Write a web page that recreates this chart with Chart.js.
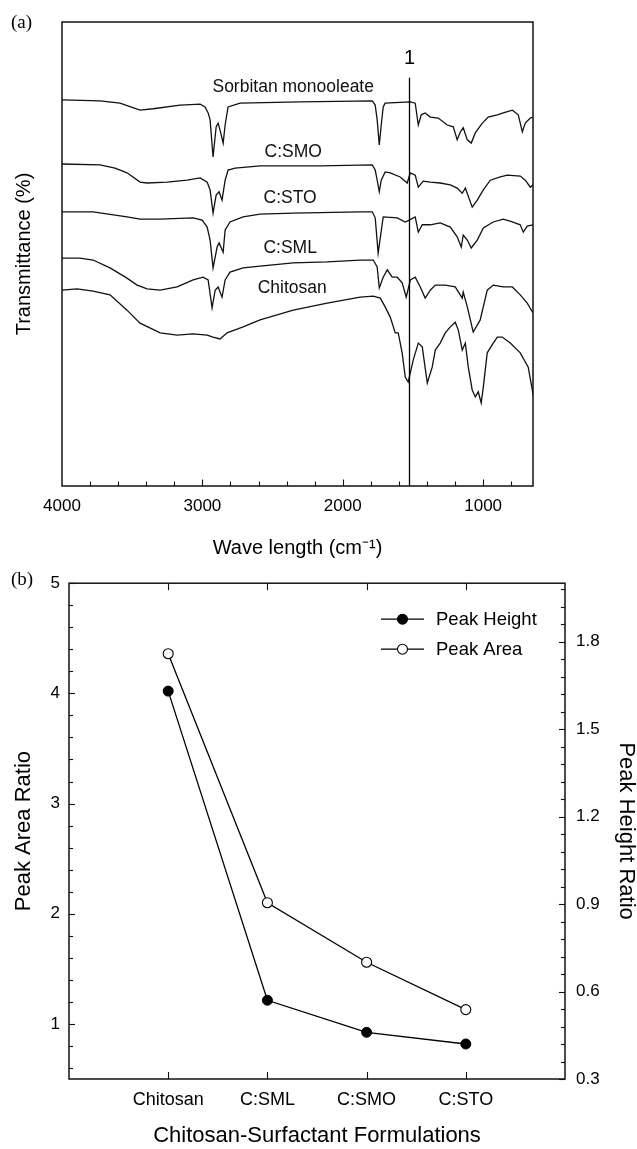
<!DOCTYPE html>
<html><head><meta charset="utf-8">
<script src="https://cdn.jsdelivr.net/npm/chart.js@4.4.1/dist/chart.umd.min.js"></script>
<style>
html,body{margin:0;padding:0;background:#fff;width:637px;height:1149px;overflow:hidden;}
#wrapA{position:absolute;left:0;top:0;width:637px;height:562px;}
#wrapB{position:absolute;left:0;top:562px;width:637px;height:587px;}
.pl{position:absolute;font-family:"Liberation Serif","Times New Roman",serif;font-size:19px;line-height:1;color:#000;}
</style></head><body>
<div id="wrapA"><canvas id="chartA" width="637" height="562"></canvas></div>
<div id="wrapB"><canvas id="chartB" width="637" height="587"></canvas></div>
<div class="pl" style="left:11px;top:12px">(a)</div>
<div class="pl" style="left:11px;top:569px">(b)</div>
<script>
// ---------- Panel (a): FTIR spectra, [wavenumber cm-1, transmittance (offset, a.u.)] ----------
const sorbitanMonooleate = [[4000,83.2],[3729,83.0],[3587,82.5],[3444,81.0],[3351,81.3],[3159,82.1],[3016,82.3],[2981,81.7],[2959,80.4],[2945,78.9],[2924,70.9],[2902,77.4],[2888,78.2],[2874,76.7],[2852,73.9],[2838,77.8],[2817,81.7],[2731,82.5],[2304,82.8],[1790,83.0],[1769,82.1],[1755,78.9],[1740,73.5],[1726,77.8],[1712,81.7],[1698,82.5],[1519,82.8],[1484,82.5],[1462,77.8],[1441,80.0],[1413,80.4],[1377,79.5],[1320,79.3],[1256,77.8],[1213,77.4],[1185,74.6],[1163,76.3],[1142,77.2],[1113,74.6],[1085,73.9],[1056,76.1],[1006,78.2],[964,79.5],[899,80.0],[857,80.4],[792,81.0],[750,80.0],[721,76.3],[700,78.2],[664,79.3],[645,79.5]];
const cSMO = [[4000,69.4],[3729,69.2],[3622,68.5],[3537,67.5],[3444,65.5],[3394,65.3],[3252,65.5],[3109,65.9],[3016,66.4],[2966,65.5],[2945,63.8],[2924,58.8],[2902,62.7],[2881,63.4],[2860,61.6],[2838,65.9],[2817,68.1],[2767,68.5],[2589,69.0],[2161,69.0],[1790,69.2],[1769,68.1],[1755,65.9],[1740,63.4],[1726,65.9],[1698,67.7],[1662,67.5],[1591,66.6],[1541,65.3],[1519,67.5],[1484,67.0],[1462,64.4],[1427,65.7],[1377,65.5],[1306,65.3],[1234,64.9],[1185,64.2],[1149,63.1],[1127,64.2],[1078,60.1],[1042,61.6],[999,63.8],[949,65.9],[878,66.6],[828,67.0],[736,66.8],[700,65.9],[664,64.4],[645,64.9]];
const cSTO = [[4000,59.1],[3779,59.1],[3537,58.0],[3444,57.5],[3301,57.5],[3066,57.8],[3002,57.3],[2966,55.8],[2945,53.0],[2924,47.0],[2895,51.5],[2881,52.4],[2852,50.4],[2838,55.2],[2803,56.9],[2710,58.0],[2589,58.6],[2353,58.8],[1876,59.1],[1790,59.1],[1769,57.8],[1748,50.2],[1712,58.0],[1612,57.8],[1555,56.9],[1527,57.3],[1484,58.0],[1462,54.7],[1434,56.3],[1377,56.3],[1306,56.7],[1234,55.8],[1185,53.7],[1156,51.5],[1142,54.1],[1113,53.0],[1085,51.3],[1042,53.0],[999,55.6],[928,56.9],[857,57.5],[792,56.9],[736,56.3],[714,54.7],[686,56.0],[645,56.3]];
const cSML = [[4000,49.1],[3872,49.1],[3779,48.7],[3658,47.0],[3537,44.8],[3465,43.3],[3394,42.5],[3301,42.2],[3180,42.9],[3066,44.4],[2995,45.0],[2959,44.4],[2931,38.4],[2909,42.2],[2888,42.9],[2860,40.7],[2838,44.4],[2803,46.1],[2710,47.0],[2589,47.4],[2353,48.1],[2111,48.3],[1876,48.7],[1783,48.7],[1755,47.2],[1740,42.7],[1712,45.0],[1683,46.6],[1648,45.0],[1612,45.0],[1577,43.8],[1548,40.7],[1519,44.4],[1484,45.0],[1448,42.9],[1413,40.5],[1377,42.2],[1341,43.3],[1270,43.3],[1199,42.9],[1149,40.5],[1142,41.8],[1113,38.6],[1071,33.2],[1021,35.8],[971,42.2],[928,43.3],[857,42.9],[792,42.9],[736,41.2],[686,39.4],[645,37.3]];
const chitosanSpectrum = [[4000,42.2],[3893,42.5],[3779,42.0],[3658,41.2],[3537,37.9],[3444,35.1],[3301,33.0],[3180,32.5],[3066,32.8],[2966,32.5],[2924,32.1],[2874,31.7],[2824,33.0],[2710,34.3],[2589,35.8],[2353,37.9],[2111,39.4],[1876,40.7],[1783,40.9],[1733,40.5],[1698,38.6],[1662,36.4],[1626,33.0],[1605,33.0],[1577,28.7],[1555,23.5],[1534,22.4],[1498,27.2],[1462,30.8],[1434,30.0],[1398,22.2],[1363,25.6],[1341,29.3],[1306,30.8],[1270,33.0],[1234,34.3],[1199,35.3],[1177,33.6],[1149,29.3],[1127,30.8],[1106,25.6],[1078,20.7],[1056,19.2],[1035,20.3],[1014,17.9],[999,21.3],[971,28.7],[928,30.8],[899,32.1],[864,32.1],[807,30.8],[736,28.7],[679,25.6],[650,20.7],[645,19.6]];
const spectrumNames = ['Sorbitan monooleate','C:SMO','C:STO','C:SML','Chitosan'];
const waveTickLabels = [4000,3000,2000,1000];
const markerWave = 1530;
const markerName = '1';

// ---------- Panel (b): peak ratios ----------
const formulations = ['Chitosan','C:SML','C:SMO','C:STO'];
const peakHeight = [1.63,0.57,0.46,0.42];
const peakArea = [4.36,2.10,1.56,1.13];
const areaTicks = [1,2,3,4,5];
const heightTicks = [0.3,0.6,0.9,1.2,1.5,1.8];

Chart.defaults.font.family = '"Liberation Sans", Arial, Helvetica, sans-serif';
Chart.defaults.color = '#000';

const toXY = arr => arr.map(p => ({x:p[0], y:p[1]}));
const range = (a,b,s) => { const r=[]; for(let v=a; v<=b+1e-9; v+=s) r.push(+v.toFixed(4)); return r; };

const frameTicks = {
  id:'frameTicks',
  afterDraw(chart, args, opts){
    const {ctx, chartArea:a} = chart;
    ctx.save();
    ctx.strokeStyle = '#111';
    ctx.lineWidth = 1.1;
    (opts.ticks||[]).forEach(t => {
      const sc = chart.scales[t.scale];
      t.values.forEach(v => {
        const p = Math.round(sc.getPixelForValue(v)) + 0.5;
        ctx.beginPath();
        if (t.edge==='bottom'){ ctx.moveTo(p,a.bottom); ctx.lineTo(p,a.bottom-t.len); }
        if (t.edge==='top'){ ctx.moveTo(p,a.top); ctx.lineTo(p,a.top+t.len); }
        if (t.edge==='left'){ ctx.moveTo(a.left,p); ctx.lineTo(a.left+t.len,p); }
        if (t.edge==='right'){ ctx.moveTo(a.right,p); ctx.lineTo(a.right-t.len,p); }
        ctx.stroke();
      });
    });
    ctx.lineWidth = 1.5;
    ctx.strokeRect(a.left, a.top, a.right-a.left, a.bottom-a.top);
    ctx.restore();
  }
};

const spectrumLabels = {
  id:'spectrumLabels',
  afterDraw(chart, args, opts){
    const {ctx} = chart;
    const xs = chart.scales.x, ys = chart.scales.y;
    ctx.save();
    ctx.fillStyle = '#111';
    ctx.font = '17.5px "Liberation Sans", Arial, sans-serif';
    ctx.textAlign = 'center';
    ctx.textBaseline = 'middle';
    opts.items.forEach(it => {
      ctx.fillText(it.text, xs.getPixelForValue(it.at[0]), ys.getPixelForValue(it.at[1]));
    });
    // marker line
    const mx = Math.round(xs.getPixelForValue(opts.marker.wave)) + 0.5;
    const top = ys.getPixelForValue(opts.marker.top);
    ctx.strokeStyle = '#000';
    ctx.lineWidth = 1.3;
    ctx.beginPath();
    ctx.moveTo(mx, top);
    ctx.lineTo(mx, chart.chartArea.bottom);
    ctx.stroke();
    ctx.font = '20px "Liberation Sans", Arial, sans-serif';
    ctx.fillStyle = '#000';
    ctx.fillText(opts.marker.text, mx, top - 19);
    ctx.restore();
  }
};

const specSets = [sorbitanMonooleate, cSMO, cSTO, cSML, chitosanSpectrum];

new Chart(document.getElementById('chartA'), {
  type:'line',
  data:{
    datasets: specSets.map((s,i) => ({
      label: spectrumNames[i],
      data: toXY(s),
      borderColor:'#111',
      borderWidth:1.3,
      pointRadius:0,
      tension:0,
      fill:false
    }))
  },
  options:{
    responsive:false,
    animation:false,
    events:[],
    layout:{padding:{top:22,right:104,left:0,bottom:0}},
    plugins:{
      legend:{display:false},
      tooltip:{enabled:false},
      frameTicks:{ticks:[
        {scale:'x', edge:'bottom', len:4.5, values: range(800,3800,200).filter(v=>v%1000!==0)},
        {scale:'x', edge:'bottom', len:6.5, values: [3000,2000,1000]}
      ]},
      spectrumLabels:{
        items:[
          {text:spectrumNames[0], at:[2353,86.0]},
          {text:spectrumNames[1], at:[2353,72.0]},
          {text:spectrumNames[2], at:[2375,62.1]},
          {text:spectrumNames[3], at:[2375,51.3]},
          {text:spectrumNames[4], at:[2360,42.7]}
        ],
        marker:{wave:markerWave, top:88, text:markerName}
      }
    },
    scales:{
      x:{
        type:'linear', reverse:true, min:645, max:4000,
        grid:{display:false, drawTicks:false}, border:{display:false},
        afterBuildTicks: ax => { ax.ticks = waveTickLabels.map(v=>({value:v})); },
        afterFit: ax => { ax.height = 76; },
        ticks:{autoSkip:false, maxRotation:0, padding:10, font:{size:17}, color:'#000', callback: v => String(v)},
        title:{display:true, text:'Wave length (cm\u207B\u00B9)', font:{size:20, lineHeight:1}, color:'#000', padding:{top:0,bottom:4}}
      },
      y:{
        type:'linear', min:0, max:100,
        grid:{display:false, drawTicks:false}, border:{display:false},
        ticks:{display:false},
        afterFit: ax => { ax.width = 62; },
        title:{display:true, text:'Transmittance (%)', font:{size:20, lineHeight:1}, color:'#000', padding:{top:14,bottom:0}}
      }
    }
  },
  plugins:[frameTicks, spectrumLabels]
});

const legendPlugin = {
  id:'ratioLegend',
  afterDraw(chart){
    const {ctx, chartArea:a} = chart;
    ctx.save();
    chart.data.datasets.forEach((ds,i) => {
      const y = a.top + 36 + i*30;
      const x0 = a.right - 184;
      ctx.strokeStyle = '#000'; ctx.lineWidth = 1.3;
      ctx.beginPath(); ctx.moveTo(x0,y); ctx.lineTo(x0+43,y); ctx.stroke();
      ctx.beginPath(); ctx.arc(x0+21.5,y,5,0,Math.PI*2);
      ctx.fillStyle = ds.pointBackgroundColor; ctx.fill();
      ctx.lineWidth = 1.1; ctx.stroke();
      ctx.fillStyle = '#000';
      ctx.font = '18.5px "Liberation Sans", Arial, sans-serif';
      ctx.textAlign = 'left'; ctx.textBaseline = 'middle';
      ctx.fillText(ds.label, x0+55, y+1);
    });
    ctx.restore();
  }
};

new Chart(document.getElementById('chartB'), {
  type:'line',
  data:{
    datasets:[
      {label:'Peak Height', data: formulations.map((f,i)=>({x:i+1, y:peakHeight[i]})), yAxisID:'yH',
       borderColor:'#000', borderWidth:1.3, pointRadius:5, pointBackgroundColor:'#000', pointBorderColor:'#000', pointBorderWidth:1, tension:0},
      {label:'Peak Area', data: formulations.map((f,i)=>({x:i+1, y:peakArea[i]})), yAxisID:'yA',
       borderColor:'#000', borderWidth:1.3, pointRadius:5, pointBackgroundColor:'#fff', pointBorderColor:'#000', pointBorderWidth:1.1, tension:0}
    ]
  },
  options:{
    responsive:false,
    animation:false,
    events:[],
    layout:{padding:{top:21,right:0,left:0,bottom:0}},
    plugins:{
      legend:{display:false},
      tooltip:{enabled:false},
      frameTicks:{ticks:[
        {scale:'x', edge:'bottom', len:7, values:[1,2,3,4]},
        {scale:'x', edge:'top', len:7, values:[1,2,3,4]},
        {scale:'yA', edge:'left', len:4, values: range(0.6,4.8,0.2).filter(v=>Math.abs(v-Math.round(v))>1e-6)},
        {scale:'yA', edge:'left', len:6, values: areaTicks},
        {scale:'yH', edge:'right', len:4, values: range(0.36,1.98,0.06).filter(v=>Math.abs(v/0.3-Math.round(v/0.3))>1e-6)},
        {scale:'yH', edge:'right', len:6, values: heightTicks}
      ]}
    },
    scales:{
      x:{
        type:'linear', min:0, max:5,
        grid:{display:false, drawTicks:false}, border:{display:false},
        afterBuildTicks: ax => { ax.ticks = formulations.map((f,i)=>({value:i+1})); },
        afterFit: ax => { ax.height = 70; },
        ticks:{autoSkip:false, maxRotation:0, padding:10, font:{size:18}, color:'#000',
               callback: v => formulations[Math.round(v)-1] || ''},
        title:{display:true, text:'Chitosan-Surfactant Formulations', font:{size:22, lineHeight:1}, color:'#000', padding:{top:0,bottom:2}}
      },
      yA:{
        type:'linear', position:'left', min:0.5, max:5,
        grid:{display:false, drawTicks:false}, border:{display:false},
        afterBuildTicks: ax => { ax.ticks = areaTicks.map(v=>({value:v})); },
        afterFit: ax => { ax.width = 69; },
        ticks:{padding:9, font:{size:17}, color:'#000', callback: v => String(v)},
        title:{display:true, text:'Peak Area Ratio', font:{size:22, lineHeight:1}, color:'#000', padding:{top:13,bottom:0}}
      },
      yH:{
        type:'linear', position:'right', min:0.3, max:2.0,
        grid:{display:false, drawTicks:false}, border:{display:false},
        afterBuildTicks: ax => { ax.ticks = heightTicks.map(v=>({value:v})); },
        afterFit: ax => { ax.width = 72; },
        ticks:{padding:11, font:{size:17}, color:'#000', callback: v => Number(v).toFixed(1)},
        title:{display:true, text:'Peak Height Ratio', font:{size:22, lineHeight:1}, color:'#000', padding:{top:0,bottom:0}}
      }
    }
  },
  plugins:[frameTicks, legendPlugin]
});
</script>
</body></html>
